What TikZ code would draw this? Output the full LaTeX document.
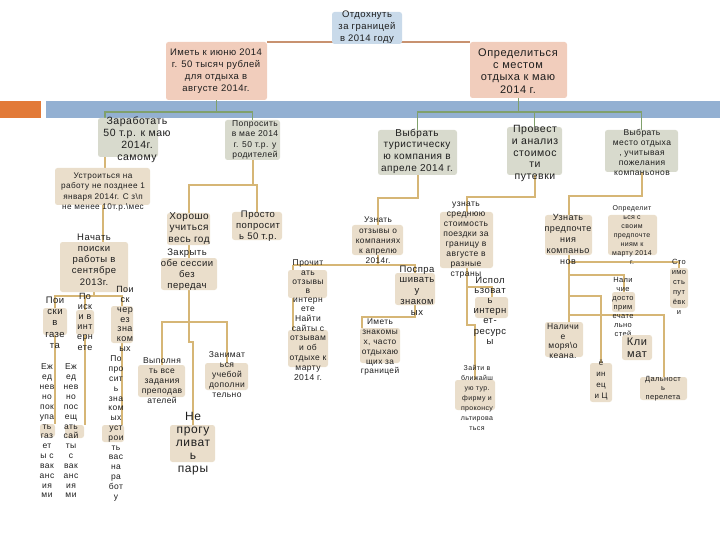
\documentclass[tikz,border=0pt]{standalone}
\usepackage{fontspec}
\setmainfont{Liberation Sans}[LetterSpace=5]
\usetikzlibrary{fit}
\pgfdeclarelayer{bar}
\pgfdeclarelayer{lines}
\pgfsetlayers{bar,lines,main}
\definecolor{cpink}{RGB}{241,205,188}
\definecolor{cblue}{RGB}{201,218,234}
\definecolor{cgrey}{RGB}{216,218,205}
\definecolor{cbeige}{RGB}{234,222,203}
\definecolor{cgold}{RGB}{214,182,118}
\definecolor{cgreen}{RGB}{128,160,108}
\definecolor{ctop}{RGB}{200,146,112}
\definecolor{cbar}{RGB}{147,176,210}
\definecolor{corange}{RGB}{226,122,56}
\definecolor{ctext}{RGB}{30,30,30}
\tikzset{
  box/.style={inner sep=0pt, outer sep=0pt, rounded corners=2.5pt, draw=none},
  pinkbox/.style={box, fill=cpink},
  bluebox/.style={box, fill=cblue},
  greybox/.style={box, fill=cgrey},
  beigebox/.style={box, fill=cbeige},
  txt/.style={inner sep=0pt, align=center, text=ctext},
  cy/.style={draw=cgold, line width=2pt},
  cg/.style={draw=cgreen, line width=1.3pt},
  ct/.style={draw=ctop, line width=1.8pt}
}
\newcommand\bx[6]{\node[#1, fit={(#3,#4) (#5,#6)}] (#2) {};}
\newcommand\tx[6]{\node[txt, font={\fontsize{#4}{#5}\selectfont}] (#1) at (#2,#3) {#6};}
\begin{document}
\begin{tikzpicture}[x=1pt,y=-1pt]
\useasboundingbox (0,0) rectangle (720,540);
\begin{pgfonlayer}{bar}
\fill[corange] (0,101) rectangle (41,118);
\fill[cbar] (46,101) rectangle (720,118);
\end{pgfonlayer}

% boxes and texts
\bx{bluebox}{otd}{332}{12}{402}{44}
\tx{t-otd}{367}{27}{9.5}{12.3}{Отдохнуть\\за границей\\в 2014 году}
\bx{pinkbox}{imet}{166}{42}{267}{100}
\tx{t-imet}{216}{71}{9.5}{11.8}{Иметь к июню 2014\\г. 50 тысяч рублей\\для отдыха в\\августе 2014г.}
\bx{pinkbox}{opr}{470}{42}{567}{98}
\tx{t-opr}{518}{71}{11}{12.3}{Определиться\\с местом\\отдыха к маю\\2014 г.}

\bx{greybox}{zar}{98}{118}{158}{157}
\tx{t-zar}{137}{139.5}{10.5}{12}{Заработать\\50 т.р. к маю\\2014г.\\самому}
\bx{greybox}{pop}{225}{120}{280}{160}
\tx{t-pop}{255}{140}{8.5}{10.3}{Попросить\\в мае 2014\\г. 50 т.р. у\\родителей}
\bx{greybox}{vt}{378}{130}{457}{175}
\tx{t-vt}{417}{151}{10}{11.6}{Выбрать\\туристическу\\ю компания в\\апреле 2014 г.}
\bx{greybox}{prov}{507}{127}{562}{175}
\tx{t-prov}{535}{153.5}{10.5}{11.8}{Провест\\и анализ\\стоимос\\ти\\путевки}
\bx{greybox}{vm}{605}{130}{678}{172}
\tx{t-vm}{642}{152.5}{8.5}{10.2}{Выбрать\\место отдыха\\, учитывая\\пожелания\\компаньонов}

\bx{beigebox}{ustr}{55}{168}{150}{205}
\tx{t-ustr}{103}{192}{8.2}{10.5}{Устроиться на\\работу не позднее 1\\января 2014г. С з\textbackslash п\\не менее 10т.р.\textbackslash мес}
\bx{beigebox}{nach}{60}{242}{128}{292}
\tx{t-nach}{94}{259.5}{9.5}{11.2}{Начать\\поиски\\работы в\\сентябре\\2013г.}
\bx{beigebox}{gaz}{43}{308}{67}{335}
\tx{t-gaz}{55}{322.5}{9.5}{11.3}{Пои\\ски\\в\\газе\\та}
\bx{beigebox}{int}{76}{310}{94}{335}
\tx{t-int}{85}{321.5}{9}{10.2}{По\\иск\\и в\\инт\\ерн\\ете}
\bx{beigebox}{zn}{111}{306}{133}{343}
\tx{t-zn}{125}{319}{9}{9.7}{Пои\\ск\\чер\\ез\\зна\\ком\\ых}
\bx{beigebox}{ej1}{40}{424}{55}{437}
\tx{t-ej1}{47}{431}{8.5}{9.85}{Еж\\ед\\нев\\но\\пок\\упа\\ть\\газ\\ет\\ы с\\вак\\анс\\ия\\ми}
\bx{beigebox}{ej2}{65}{425}{84}{438}
\tx{t-ej2}{71}{431}{8.5}{9.85}{Еж\\ед\\нев\\но\\пос\\ещ\\ать\\сай\\ты\\с\\вак\\анс\\ия\\ми}
\bx{beigebox}{po}{102}{425}{124}{442}
\tx{t-po}{116}{428.5}{8.5}{9.8}{По\\про\\сит\\ь\\зна\\ком\\ых\\уст\\рои\\ть\\вас\\на\\ра\\бот\\у}

\bx{beigebox}{hor}{167}{213}{210}{245}
\tx{t-hor}{189}{228.5}{10}{11.5}{Хорошо\\учиться\\весь год}
\bx{beigebox}{pros}{232}{212}{282}{240}
\tx{t-pros}{258}{226.5}{9.5}{10.8}{Просто\\попросит\\ь 50 т.р.}
\bx{beigebox}{zak}{161}{258}{217}{290}
\tx{t-zak}{187}{269.5}{9.5}{11}{Закрыть\\обе сессии\\без\\передач}
\bx{beigebox}{vyp}{138}{365}{185}{397}
\tx{t-vyp}{162}{381}{8.5}{10}{Выполня\\ть все\\задания\\преподав\\ателей}
\bx{beigebox}{zan}{205}{363}{248}{390}
\tx{t-zan}{227}{375}{8.5}{10}{Занимат\\ься\\учебой\\дополни\\тельно}
\bx{beigebox}{ne}{170}{425}{215}{462}
\tx{t-ne}{193}{444}{12}{13}{Не\\прогу\\ливат\\ь\\пары}

\bx{beigebox}{uzo}{352}{225}{403}{255}
\tx{t-uzo}{378}{240.5}{8.3}{10.2}{Узнать\\отзывы о\\компаниях\\к апрелю\\2014г.}
\bx{beigebox}{pro}{288}{270}{327}{298}
\tx{t-pro}{308}{286}{8.5}{9.2}{Прочит\\ать\\отзывы\\в\\интерн\\ете}
\bx{beigebox}{naiti}{288}{330}{328}{367}
\tx{t-naiti}{308}{347.5}{8.5}{9.8}{Найти\\сайты с\\отзывам\\и об\\отдыхе к\\марту\\2014 г.}
\bx{beigebox}{posp}{395}{273}{435}{305}
\tx{t-posp}{417}{290.5}{9.5}{10.8}{Поспра\\шивать\\у\\знаком\\ых}
\bx{beigebox}{imz}{360}{328}{400}{363}
\tx{t-imz}{380}{347.5}{8.3}{9.8}{Иметь\\знакомы\\х, часто\\отдыхаю\\щих за\\границей}

\bx{beigebox}{usr}{440}{212}{493}{268}
\tx{t-usr}{466}{240}{8.5}{10}{узнать\\среднюю\\стоимость\\поездки за\\границу в\\августе в\\разные\\страны}
\bx{beigebox}{isp}{475}{297}{508}{318}
\tx{t-isp}{490}{310.5}{9.5}{10.2}{Испол\\ьзоват\\ь\\интерн\\ет-\\ресурс\\ы}
\bx{beigebox}{zai}{455}{380}{495}{410}
\tx{t-zai}{477}{398}{7}{10}{Зайти в\\ближайш\\ую тур.\\фирму и\\проконсу\\льтирова\\ться}

\bx{beigebox}{upk}{545}{215}{592}{255}
\tx{t-upk}{568}{239}{9}{11}{Узнать\\предпочте\\ния\\компаньо\\нов}
\bx{beigebox}{os}{608}{215}{657}{255}
\tx{t-os}{632}{235}{7}{9}{Определит\\ься с\\своим\\предпочте\\ниям к\\марту 2014\\г.}
\bx{beigebox}{st}{670}{268}{688}{308}
\tx{t-st}{679}{287}{7.5}{10}{Сто\\имо\\сть\\пут\\ёвк\\и}
\bx{beigebox}{nd}{612}{292}{635}{312}
\tx{t-nd}{623}{307}{7.5}{9}{Нали\\чие\\досто\\прим\\ечате\\льно\\стей}
\bx{beigebox}{klim}{622}{335}{652}{360}
\tx{t-klim}{637}{348}{11}{12}{Кли\\мат}
\bx{beigebox}{nm}{545}{322}{583}{357}
\tx{t-nm}{563}{341}{8.5}{9.5}{Наличи\\е\\моря\textbackslash о\\кеана.}
\bx{beigebox}{ein}{590}{363}{612}{402}
\tx{t-ein}{601}{380}{8}{11}{ё\\ин\\ец\\и Ц}
\bx{beigebox}{dal}{640}{377}{687}{400}
\tx{t-dal}{663}{389}{7.5}{9}{Дальност\\ь\\перелета}

\coordinate (zarA) at ([xshift=7pt]zar.north west);
\coordinate (zarB) at ([xshift=7pt]zar.south west);
\coordinate (proL) at ([xshift=5pt]pro.north west);
\coordinate (imzL) at ([xshift=2pt]imz.north west);

\begin{pgfonlayer}{lines}
\draw[ct] (imet.north east) -- (opr.north west);
% level 2
\draw[cg] (imet.south) -- (imet.south |- 0,112);
\draw[cg] (zarA) |- (pop.north |- 0,112) -- (pop.north);
\draw[cg] (opr.south) -- (opr.south |- 0,112);
\draw[cg] (vt.north) |- (vm.north |- 0,112) -- (vm.north);
\draw[cg] (prov.north) -- (prov.north |- 0,112);
% left branch
\draw[cy] (zarB) -- (zarB |- ustr.north);
\draw[cy] (ustr.south) -- (ustr.south |- nach.north);
\draw[cy] (nach.south) -- (nach.south |- 0,296);
\draw[cy] (gaz.north) |- (zn.north |- 0,296) -- (zn.north);
\draw[cy] (int.north) -- (int.north |- 0,296);
\draw[cy] (gaz.south) -- (gaz.south |- ej1.north);
\draw[cy] (int.south) -- (int.south |- ej2.north);
\draw[cy] (zn.south) -- (zn.south |- po.north);
% parents branch
\draw[cy] (pop.south) -- (pop.south |- 0,185);
\draw[cy] (hor.north) |- (pros.north |- 0,185) -- (pros.north);
\draw[cy] (hor.south) -- (hor.south |- zak.north);
\draw[cy] (zak.south) -- (zak.south |- 0,322);
\draw[cy] (vyp.north) |- (zan.north |- 0,322) -- (zan.north);
\draw[cy] (zak.south |- 0,322) -- (zak.south |- 0,342) -| (ne.north);
% touristic company branch
\draw[cy] (vt.south) |- (uzo.north |- 0,198) -- (uzo.north);
\draw[cy] (uzo.south) -- (uzo.south |- 0,265);
\draw[cy] (proL |- 0,265) -| (posp.north);
\draw[cy] (proL |- 0,265) -- (proL |- naiti.north);
\draw[cy] (posp.south) |- (imzL |- 0,317) -- (imzL);
% cost branch
\draw[cy] (prov.south) |- (usr.north |- 0,197) -- (usr.north);
\draw[cy] (usr.south) -- (usr.south |- 0,325) -| (zai.north);
\draw[cy] (usr.south |- 0,287) -| (isp.north);
% place branch
\draw[cy] (vm.south) |- (upk.north |- 0,196) -- (upk.north);
\draw[cy] (upk.south) -- (upk.south |- nm.north);
\draw[cy] (upk.south |- 0,262) -| (st.north);
\draw[cy] (upk.south |- 0,275) -| (nd.north);
\draw[cy] (upk.south |- 0,296) -| (ein.north);
\draw[cy] (upk.south |- 0,315) -| (dal.north);
\end{pgfonlayer}
\end{tikzpicture}
\end{document}
